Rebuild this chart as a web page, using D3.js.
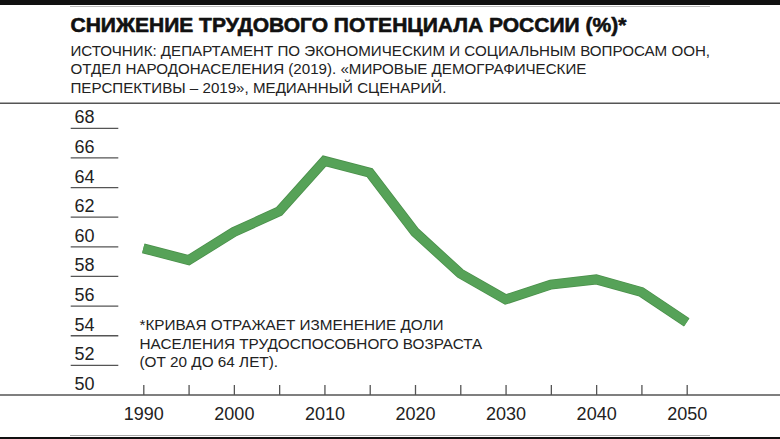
<!DOCTYPE html>
<html><head><meta charset="utf-8">
<script src="https://cdn.jsdelivr.net/npm/d3@7"></script>
<style>
html,body{margin:0;padding:0;background:#fff;}
svg{display:block;font-family:"Liberation Sans",Arial,Helvetica,sans-serif;}
</style></head>
<body>
<svg id="chart" width="780" height="439"></svg>
<script>
const titleText = "СНИЖЕНИЕ ТРУДОВОГО ПОТЕНЦИАЛА РОССИИ (%)*";
const subtitleLines = [
  "ИСТОЧНИК: ДЕПАРТАМЕНТ ПО ЭКОНОМИЧЕСКИМ И СОЦИАЛЬНЫМ ВОПРОСАМ ООН,",
  "ОТДЕЛ НАРОДОНАСЕЛЕНИЯ (2019). «МИРОВЫЕ ДЕМОГРАФИЧЕСКИЕ",
  "ПЕРСПЕКТИВЫ – 2019», МЕДИАННЫЙ СЦЕНАРИЙ."
];
const noteLines = [
  "*КРИВАЯ ОТРАЖАЕТ ИЗМЕНЕНИЕ ДОЛИ",
  "НАСЕЛЕНИЯ ТРУДОСПОСОБНОГО ВОЗРАСТА",
  "(ОТ 20 ДО 64 ЛЕТ)."
];
const years  = [1990,1995,2000,2005,2010,2015,2020,2025,2030,2035,2040,2045,2050];
const values = [59.9,59.1,61.0,62.4,65.8,65.0,61.0,58.2,56.45,57.45,57.8,56.95,54.9];
const yTicks = [50,52,54,56,58,60,62,64,66,68];
const xTicks = [1990,1995,2000,2005,2010,2015,2020,2025,2030,2035,2040,2045,2050];
const xLabels = [1990,2000,2010,2020,2030,2040,2050];

const svg = d3.select("#chart");
const W = 780, H = 439;

const x = d3.scaleLinear().domain([1990,2050]).range([143.3,686.7]);
const y = d3.scaleLinear().domain([50,68]).range([395,128.3]);

function fit(sel, target){
  const n = sel.node();
  const fs = parseFloat(sel.attr("font-size"));
  const w = n.getComputedTextLength();
  sel.attr("font-size", (fs*target/w).toFixed(2));
}

// frame bars
svg.append("rect").attr("x",0).attr("y",0).attr("width",W).attr("height",5).attr("fill","#111");
svg.append("line").attr("x1",70).attr("x2",710).attr("y1",6.5).attr("y2",6.5).attr("stroke","#bbb").attr("stroke-width",1);
svg.append("rect").attr("x",0).attr("y",437).attr("width",W).attr("height",2).attr("fill","#111");
svg.append("line").attr("x1",70).attr("x2",710).attr("y1",435.5).attr("y2",435.5).attr("stroke","#aaa").attr("stroke-width",1);

// title
const t = svg.append("text").attr("x",70.5).attr("y",31.5).attr("font-size",20)
  .attr("font-weight","bold").attr("fill","#111")
  .attr("stroke","#111").attr("stroke-width",0.6).attr("stroke-linejoin","round")
  .text(titleText);
fit(t,556);

// subtitle
const subs = svg.append("g").attr("fill","#222");
subtitleLines.forEach((s,i)=>{
  subs.append("text").attr("x",70.5).attr("y",55.5+i*18.5).attr("font-size",14).text(s);
});
{
  const first = subs.select("text");
  fit(first,640);
  const fs = first.attr("font-size");
  subs.selectAll("text").attr("font-size",fs);
}

// separator
svg.append("line").attr("x1",0).attr("x2",W).attr("y1",103.3).attr("y2",103.3).attr("stroke","#555").attr("stroke-width",1.5);

// y axis: short lines with labels
const yg = svg.append("g");
yTicks.filter(v=>v>50).forEach(v=>{
  yg.append("line").attr("x1",70.7).attr("x2",118.3).attr("y1",y(v)).attr("y2",y(v))
    .attr("stroke","#555").attr("stroke-width",1.3);
});
yTicks.forEach(v=>{
  yg.append("text").attr("x",74.5).attr("y",y(v)-5).attr("font-size",18).attr("fill","#222").text(v);
});

// x axis baseline full width
svg.append("line").attr("x1",0).attr("x2",W).attr("y1",395).attr("y2",395).attr("stroke","#555").attr("stroke-width",1.3);

const xAxis = d3.axisBottom(x).tickValues(xTicks).tickSize(-10).tickPadding(12)
  .tickFormat(d => xLabels.includes(d) ? String(d) : "");
const xg = svg.append("g").attr("transform","translate(0,395)").call(xAxis);
xg.select(".domain").remove();
xg.selectAll(".tick line").attr("stroke","#555").attr("stroke-width",1.3);
xg.selectAll(".tick text").attr("font-size",18).attr("fill","#222")
  .attr("font-family","'Liberation Sans',Arial,sans-serif");

// note
const ng = svg.append("g").attr("fill","#222");
noteLines.forEach((s,i)=>{
  ng.append("text").attr("x",139.5).attr("y",330+i*18.5).attr("font-size",14).text(s);
});
{
  const l2 = d3.select(ng.selectAll("text").nodes()[1]);
  fit(l2,343);
  ng.selectAll("text").attr("font-size",l2.attr("font-size"));
}

// line
const line = d3.line().x((d,i)=>x(years[i])).y(d=>y(d));
svg.append("path").datum(values).attr("d",line).attr("fill","none")
  .attr("stroke","#4a8f4a").attr("stroke-width",10).attr("stroke-linejoin","miter");
svg.append("path").datum(values).attr("d",line).attr("fill","none")
  .attr("stroke","#56a258").attr("stroke-width",8.5).attr("stroke-linejoin","miter");
</script>
</body></html>
